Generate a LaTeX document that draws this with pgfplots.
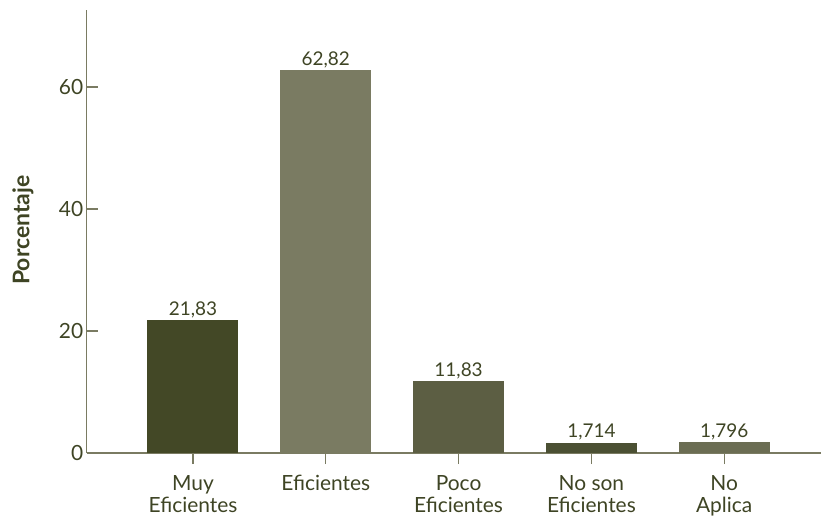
\documentclass[border=0pt]{standalone}
\usepackage{pgfplots}
\pgfplotsset{compat=1.18}
\usepackage{fontspec}
\setmainfont{Lato}
\definecolor{txt}{HTML}{3E4424}
\definecolor{axiscol}{HTML}{7A7B62}
\definecolor{c1}{HTML}{434826}
\definecolor{c2}{HTML}{7A7B62}
\definecolor{c3}{HTML}{5C5E43}
\definecolor{c4}{HTML}{4B5033}
\definecolor{c5}{HTML}{6B6D53}
\begin{document}
\begin{tikzpicture}
\begin{axis}[
  at={(0,0)}, anchor=origin,
  x=132.8bp, y=6.1bp,
  xmin=-0.8, xmax=4.73, ymin=0, ymax=72.6,
  enlargelimits=false,
  axis x line*=bottom, axis y line*=left,
  axis line style={axiscol, line width=1.3bp},
  ybar=0pt, bar width=91bp,
  ytick={0,20,40,60}, xtick={0,1,2,3,4},
  xticklabels={Muy\\Eficientes, Eficientes, Poco\\Eficientes, No son\\Eficientes, No\\Aplica},
  xtick align=outside, ytick align=inside,
  major tick length=11bp,
  tick style={axiscol, line width=1.2bp},
  xticklabel style={align=center, font=\fontsize{21}{22}\selectfont, text=txt, inner sep=2bp, yshift=-9bp},
  yticklabel style={font=\fontsize{21}{22}\selectfont, text=txt},
  /pgf/number format/assume math mode=true,
  /pgf/number format/use comma,
  /pgf/number format/precision=3,
  ylabel={Porcentaje},
  ylabel style={at={(axis description cs:-0.087,0.503)}, anchor=center, font=\bfseries\fontsize{23}{24}\selectfont, text=txt},
  nodes near coords,
  nodes near coords style={font=\fontsize{19}{20}\selectfont, text=txt, anchor=south, inner sep=2bp},
]
\addplot[fill=c1, draw=none, bar shift=0pt] coordinates {(0,21.83)};
\addplot[fill=c2, draw=none, bar shift=0pt] coordinates {(1,62.82)};
\addplot[fill=c3, draw=none, bar shift=0pt] coordinates {(2,11.83)};
\addplot[fill=c4, draw=none, bar shift=0pt] coordinates {(3,1.714)};
\addplot[fill=c5, draw=none, bar shift=0pt] coordinates {(4,1.796)};
\end{axis}
\pgfresetboundingbox
\path (-193bp,-63bp) rectangle (629bp,453bp);
\end{tikzpicture}
\end{document}
